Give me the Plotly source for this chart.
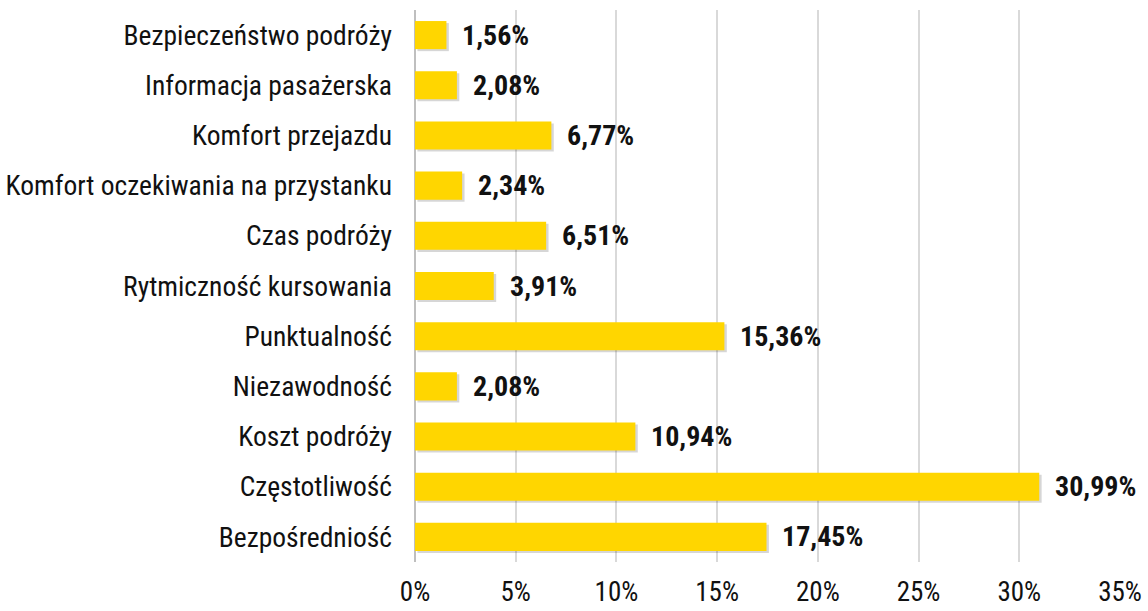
import plotly.graph_objects as go

# Survey results: importance of public transport service attributes
categories = [
    "Bezpieczeństwo podróży",
    "Informacja pasażerska",
    "Komfort przejazdu",
    "Komfort oczekiwania na przystanku",
    "Czas podróży",
    "Rytmiczność kursowania",
    "Punktualność",
    "Niezawodność",
    "Koszt podróży",
    "Częstotliwość",
    "Bezpośredniość",
]
shares = [1.56, 2.08, 6.77, 2.34, 6.51, 3.91, 15.36, 2.08, 10.94, 30.99, 17.45]
tick_values = [0, 5, 10, 15, 20, 25, 30, 35]
tick_labels = ["0%", "5%", "10%", "15%", "20%", "25%", "30%", "35%"]

FONT = "Roboto Condensed, Liberation Sans, Arial, sans-serif"
BAR_COLOR = "#FFD600"
TEXT_COLOR = "#111111"

labels = [f"{v:.2f}".replace(".", ",") + "%" for v in shares]

fig = go.Figure()

# soft drop shadow under each bar
fig.add_trace(go.Bar(
    y=categories, x=shares, base=0.12, orientation="h",
    width=0.56, offset=-0.24,
    marker=dict(color="rgba(0,0,0,0.16)", line=dict(width=0)),
    hoverinfo="skip", showlegend=False,
))

fig.add_trace(go.Bar(
    y=categories, x=shares, orientation="h",
    width=0.56,
    marker=dict(color=BAR_COLOR, line=dict(width=0)),
    showlegend=False,
))

for cat, v, lab in zip(categories, shares, labels):
    fig.add_annotation(
        x=v, y=cat, text=f"<b>{lab}</b>", showarrow=False,
        xanchor="left", xshift=14,
        font=dict(family=FONT, size=28, color=TEXT_COLOR),
    )

fig.update_layout(
    width=1148, height=611,
    margin=dict(l=415, r=28, t=10, b=49),
    paper_bgcolor="white", plot_bgcolor="white",
    barmode="overlay",
    font=dict(family=FONT, size=27.5, color=TEXT_COLOR),
)
fig.update_xaxes(
    range=[0, 35], tickvals=tick_values, ticktext=tick_labels,
    showgrid=True, gridcolor="#D9D9D9", gridwidth=1.5,
    zeroline=True, zerolinecolor="#BFBFBF", zerolinewidth=1.5,
    tickfont=dict(size=27), ticklabelstandoff=11,
    showline=False, automargin=False,
)
fig.update_yaxes(
    autorange="reversed", showgrid=False, showline=False,
    tickfont=dict(size=27.5), ticklabelstandoff=22, automargin=False,
)

fig.write_html("out.html")
